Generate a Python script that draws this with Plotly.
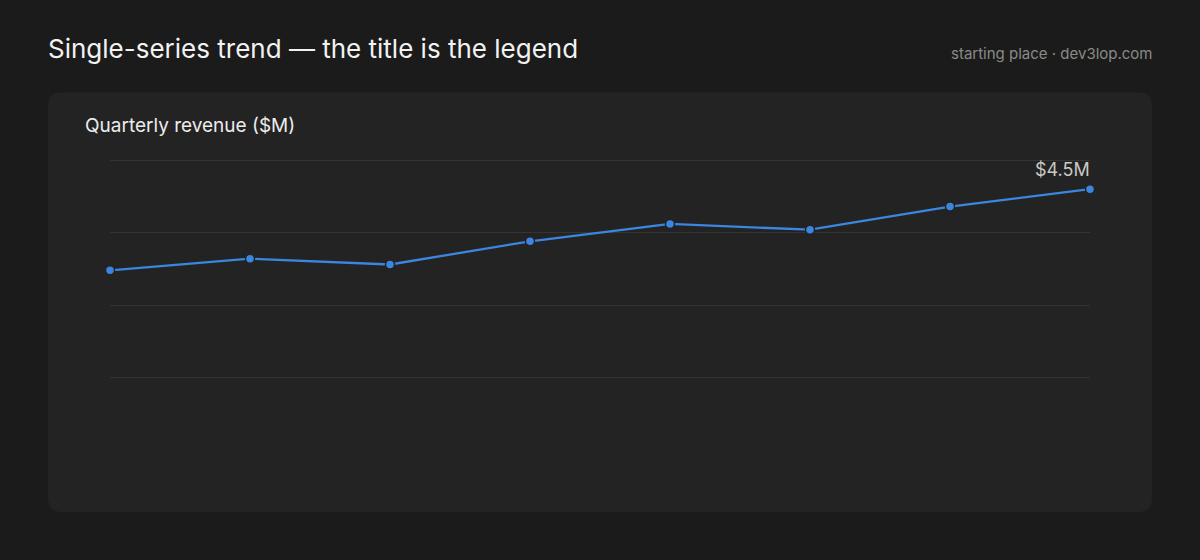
import plotly.graph_objects as go

quarters = ["Q1", "Q2", "Q3", "Q4", "Q5", "Q6", "Q7", "Q8"]
revenue = [3.1, 3.3, 3.2, 3.6, 3.9, 3.8, 4.2, 4.5]
grid_vals = [1.25, 2.5, 3.75, 5.0]

W, H = 1200, 560
Y_MAX = 5.02
L, R, B = 110, 110, 110
PH = 290 * Y_MAX / 5.0
T = H - B - PH
PW = W - L - R

BG = "#1b1b1b"
CARD = "#232323"
LINE = "#3a86e0"
FONT = "Inter, Noto Sans, sans-serif"


def px(X):
    return (X - L) / PW


def py(Y):
    return (H - B - Y) / PH


def rounded_rect(x0, y0, x1, y1, r):
    def P(X, Y):
        return f"{px(X):.6f},{py(Y):.6f}"
    return (f"M {P(x0 + r, y0)} L {P(x1 - r, y0)} Q {P(x1, y0)} {P(x1, y0 + r)} "
            f"L {P(x1, y1 - r)} Q {P(x1, y1)} {P(x1 - r, y1)} "
            f"L {P(x0 + r, y1)} Q {P(x0, y1)} {P(x0, y1 - r)} "
            f"L {P(x0, y0 + r)} Q {P(x0, y0)} {P(x0 + r, y0)} Z")


fig = go.Figure()
fig.add_trace(go.Scatter(
    x=quarters, y=revenue, mode="lines+markers",
    line=dict(color=LINE, width=2.3),
    marker=dict(size=9, color=LINE, line=dict(color=CARD, width=1.5)),
    cliponaxis=False, hoverinfo="skip", showlegend=False,
))

fig.update_layout(
    width=W, height=H,
    margin=dict(l=L, r=R, t=T, b=B, pad=0),
    paper_bgcolor=BG, plot_bgcolor="rgba(0,0,0,0)",
    font=dict(family=FONT, color="#eeeeee"),
    xaxis=dict(range=[0, len(quarters) - 1], showgrid=False, showticklabels=False,
               zeroline=False, showline=False, ticks="", fixedrange=True),
    yaxis=dict(range=[0, Y_MAX], tickvals=grid_vals, showticklabels=False,
               gridcolor="#343434", gridwidth=1, zeroline=False, showline=False,
               ticks="", fixedrange=True),
    shapes=[dict(type="path", xref="paper", yref="paper", layer="below",
                 path=rounded_rect(48, 92, 1152, 512, 14),
                 fillcolor=CARD, line=dict(width=0))],
    annotations=[
        dict(text="Single-series trend — the title is the legend", xref="paper", yref="paper",
             x=px(46), y=py(48), xanchor="left", yanchor="middle", showarrow=False,
             font=dict(size=26, color="#f2f2f2", family=FONT)),
        dict(text="starting place · dev3lop.com", xref="paper", yref="paper",
             x=px(1155), y=py(53), xanchor="right", yanchor="middle", showarrow=False,
             font=dict(size=15, color="#8a8a86", family=FONT)),
        dict(text="Quarterly revenue ($M)", xref="paper", yref="paper",
             x=px(83), y=py(125), xanchor="left", yanchor="middle", showarrow=False,
             font=dict(size=19, color="#ececec", family=FONT)),
        dict(text=f"${revenue[-1]}M", x=quarters[-1], y=revenue[-1],
             xanchor="right", yanchor="bottom", yshift=7, xshift=2, showarrow=False,
             font=dict(size=18, color="#c9c9c4", family=FONT)),
    ],
)

fig.write_html("out.html", config={"displayModeBar": False},
               post_script="document.body.style.margin='0';document.body.style.background='#1b1b1b';")
